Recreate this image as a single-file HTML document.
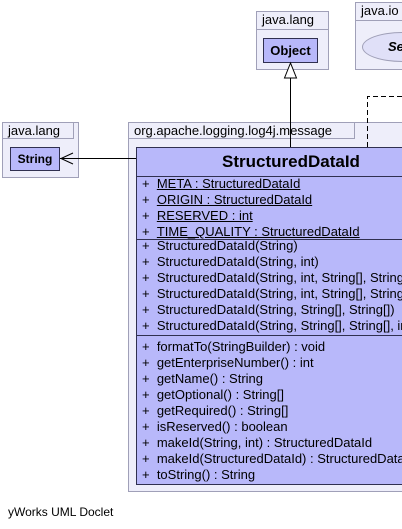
<!DOCTYPE html>
<html><head><meta charset="utf-8"><style>
html,body{margin:0;padding:0;width:402px;height:529px;overflow:hidden;background:#fff;}
#w{position:relative;width:402px;height:529px;overflow:hidden;font-family:"Liberation Sans",sans-serif;}
.a{position:absolute;box-sizing:border-box;}
.pkg{background:#eeeefa;border:1px solid #a0a0b8;}
.tab{font-size:13px;color:#000;padding-left:5px;line-height:16px;}
.cls{background:#b8b8fa;border:1px solid #303050;}
.row{position:absolute;left:5px;font-size:13px;white-space:nowrap;line-height:16px;}
u{text-decoration:underline;}
</style></head><body><div id="w">
<div class="a pkg" style="left:256px;top:11px;width:73px;height:59px;"></div>
<div class="a pkg tab" style="left:256px;top:11px;width:73px;height:19px;">java.lang</div>
<div class="a cls" style="left:263px;top:38px;width:55px;height:25px;font-weight:bold;font-size:13px;text-align:center;line-height:23px;">Object</div>
<div class="a pkg" style="left:355px;top:2px;width:47px;height:68px;border-right:none;overflow:hidden;">
<div class="a" style="left:6px;top:29px;width:80px;height:30px;border-radius:50%;background:#e0e0f8;border:1px solid #a0a0b8;font-weight:bold;font-style:italic;font-size:13px;line-height:28px;padding-left:25px;">Se</div>
</div>
<div class="a pkg tab" style="left:355px;top:2px;width:47px;height:19px;border-right:none;">java.io</div>
<div class="a pkg" style="left:2px;top:122px;width:77px;height:56px;"></div>
<div class="a pkg tab" style="left:2px;top:122px;width:72px;height:17px;">java.lang</div>
<div class="a cls" style="left:10px;top:147px;width:50px;height:24px;font-weight:bold;font-size:12px;text-align:center;line-height:22px;">String</div>
<div class="a pkg" style="left:128px;top:122px;width:274px;height:370px;border-right:none;"></div>
<div class="a pkg tab" style="left:128px;top:122px;width:227px;height:17px;">org.apache.logging.log4j.message</div>
<div class="a cls" style="left:136px;top:147px;width:266px;height:338px;border-right:none;overflow:hidden;">
<div style="position:absolute;left:0;width:308px;top:3px;text-align:center;font-weight:bold;font-size:17px;line-height:22px;">StructuredDataId</div>
<div style="position:absolute;left:0;right:0;top:28px;border-top:1px solid #303050;"></div>
<div class="row" style="top:28px">+ &nbsp;<u>META : StructuredDataId</u></div>
<div class="row" style="top:44px">+ &nbsp;<u>ORIGIN : StructuredDataId</u></div>
<div class="row" style="top:60px">+ &nbsp;<u>RESERVED : int</u></div>
<div class="row" style="top:76px">+ &nbsp;<u>TIME_QUALITY : StructuredDataId</u></div>
<div style="position:absolute;left:0;right:0;top:91px;border-top:1px solid #303050;"></div>
<div class="row" style="top:90px">+ &nbsp;StructuredDataId(String)</div>
<div class="row" style="top:106px">+ &nbsp;StructuredDataId(String, int)</div>
<div class="row" style="top:122px">+ &nbsp;StructuredDataId(String, int, String[], String[])</div>
<div class="row" style="top:138px">+ &nbsp;StructuredDataId(String, int, String[], String[], int)</div>
<div class="row" style="top:154px">+ &nbsp;StructuredDataId(String, String[], String[])</div>
<div class="row" style="top:170px">+ &nbsp;StructuredDataId(String, String[], String[], int)</div>
<div style="position:absolute;left:0;right:0;top:187px;border-top:1px solid #303050;"></div>
<div class="row" style="top:191px">+ &nbsp;formatTo(StringBuilder) : void</div>
<div class="row" style="top:207px">+ &nbsp;getEnterpriseNumber() : int</div>
<div class="row" style="top:223px">+ &nbsp;getName() : String</div>
<div class="row" style="top:239px">+ &nbsp;getOptional() : String[]</div>
<div class="row" style="top:255px">+ &nbsp;getRequired() : String[]</div>
<div class="row" style="top:271px">+ &nbsp;isReserved() : boolean</div>
<div class="row" style="top:287px">+ &nbsp;makeId(String, int) : StructuredDataId</div>
<div class="row" style="top:303px">+ &nbsp;makeId(StructuredDataId) : StructuredDataId</div>
<div class="row" style="top:319px">+ &nbsp;toString() : String</div>
</div>
<svg class="a" style="left:0;top:0" width="402" height="529">
<line x1="290.5" y1="78" x2="290.5" y2="147" stroke="#000"/>
<polygon points="290.5,63 284.5,78 296.5,78" fill="#fff" stroke="#000"/>
<line x1="60" y1="158.5" x2="136" y2="158.5" stroke="#000"/>
<polyline points="73,153 61,158.5 73,164" fill="none" stroke="#000"/>
<polyline points="367.5,147 367.5,96.5 402,96.5" fill="none" stroke="#000" stroke-dasharray="5,3"/>
</svg>
<div class="a" style="left:8px;top:505px;font-size:12px;">yWorks UML Doclet</div>
</div></body></html>
